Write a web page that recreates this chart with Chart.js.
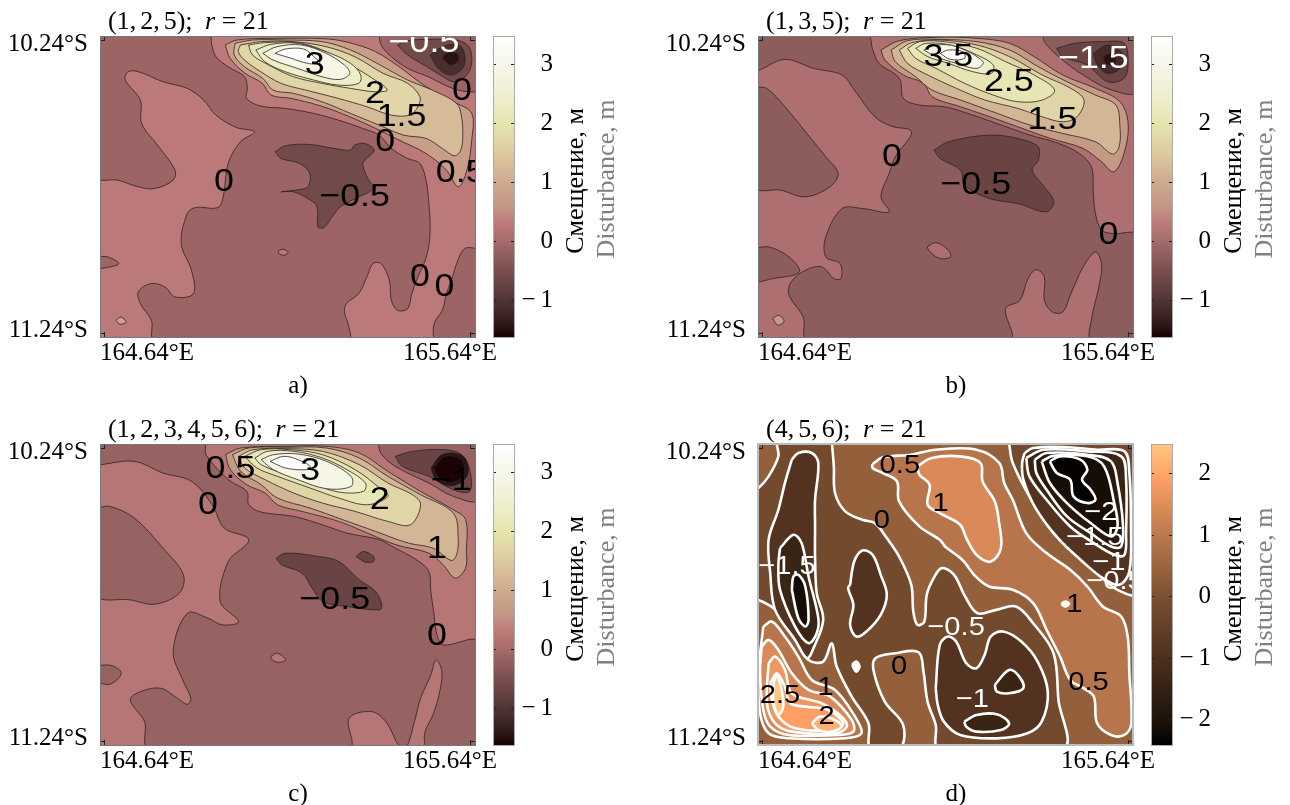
<!DOCTYPE html>
<html>
<head>
<meta charset="utf-8">
<title>Disturbance maps</title>
<script src="https://cdn.jsdelivr.net/npm/chart.js@4"></script>
<style>
    html, body { margin: 0; padding: 0; background: #fff; }
    body { width: 1290px; height: 805px; position: relative; overflow: hidden; font-family: "Liberation Serif", serif; }
    canvas { position: absolute; }
    .txt { position: absolute; font-size: 26px; line-height: 30px; white-space: nowrap; color: #000; }
    .rot { transform: translate(-50%, -50%) rotate(-90deg); }
    .cap { transform: translate(-50%, -50%); font-size: 25px; }
    .ttl { transform: translateY(-50%); }
    .ttl span { margin-left: -2.5px; }
    .ttl b { font-weight: normal; margin-left: 3px; }
</style>
</head>
<body>
<script>
/////////////// axis ticks (same on every map) ///////////////
const lonTicks = [164.64, 165.64];
const latTicks = [10.24, 11.24];
const lonTickNames = ["164.64°E", "165.64°E"];
const latTickNames = ["10.24°S", "11.24°S"];
const lonNameAt = [164.757, 165.583];
const latNameAt = [10.254, 11.23];

/////////////// colorbars ///////////////
const barTicksPink = [-1, 0, 1, 2, 3];
const barEdgesPink = [-1.62, -1.4, -1, -0.5, 0, 0.3, 0.6, 1, 1.5, 2, 2.5, 3, 3.49];
const barColorsPink = ["#1a0000", "#2e1a1a", "#503434", "#7a4e4e", "#a56b6b", "#bc7979", "#c49685", "#cea98f", "#dccb9e", "#e6e5ae", "#efefd0", "#f6f6e9", "#ffffff"];
const barTicksCopper = [-2, -1, 0, 1, 2];
const barEdgesCopper = [-2.41, -2, -1, 0, 1, 1.5, 1.8, 2, 2.48];
const barColorsCopper = ["#000000", "#1d130b", "#4c301d", "#7b4f31", "#bb7a4c", "#de8e58", "#f79a62", "#fea568", "#ffc77f"];

/////////////// map a: contour vertices as grid nodes (x,y pairs) ///////////////
const aGrid = [246, 1165, 108, 1010];
const aContours = [
    [238,100, 1173,100, 1173,1018, 238,1018],
    [238,100, 512,100, 520,135, 530,170, 560,200, 600,230, 607,265, 605,295, 640,318, 700,325, 770,340, 830,360, 890,385, 930,405, 960,445, 1000,475, 1030,490, 1045,540, 1052,610, 1055,690, 1050,750, 1040,790, 1025,830, 1010,880, 1000,925, 975,930, 960,900, 955,840, 935,790, 915,790, 900,830, 880,880, 850,910, 845,935, 855,975, 855,1018, 380,1018, 372,960, 345,910, 340,875, 370,850, 405,860, 430,890, 475,880, 470,810, 445,730, 460,640, 480,622, 535,622, 548,590, 560,490, 590,425, 625,395, 580,382, 530,345, 500,300, 460,265, 400,245, 340,215, 315,215, 308,240, 345,300, 348,370, 390,440, 430,510, 425,540, 380,565, 340,560, 290,540, 238,530],
    [238,770, 265,770, 292,790, 270,800, 238,802],
    [1173,745, 1140,745, 1120,790, 1110,830, 1095,880, 1085,930, 1065,970, 1070,1018, 1173,1018],
    [930,100, 935,135, 960,170, 1000,205, 1050,230, 1110,265, 1150,275, 1173,270, 1173,100],
    [975,135, 1000,165, 1040,195, 1080,225, 1115,245, 1145,225, 1157,185, 1150,140, 1120,120, 1060,118, 1000,122],
    [1055,165, 1075,205, 1105,225, 1135,205, 1140,165, 1125,135, 1085,140],
    [1085,175, 1105,195, 1125,180, 1120,160, 1095,160],
    [675,455, 700,437, 760,433, 820,445, 860,450, 870,435, 895,430, 918,450, 900,475, 890,490, 900,530, 915,565, 880,590, 835,620, 815,650, 795,682, 780,680, 778,620, 755,595, 720,575, 690,575, 725,570, 755,560, 760,520, 735,490, 690,475],
    [683,752, 695,747, 707,757, 697,765, 685,760],
    [285,960, 297,950, 310,965, 295,972],
    [553,135, 582,120, 673,115, 805,117, 863,130, 921,155, 979,200, 1045,260, 1112,305, 1157,340, 1157,420, 1145,510, 1124,560, 1095,510, 1045,460, 979,420, 913,380, 838,340, 780,315, 714,295, 665,285, 644,250, 602,220, 565,175],
    [577,130, 620,120, 700,120, 790,125, 860,150, 925,190, 1000,240, 1060,270, 1120,310, 1132,350, 1135,410, 1130,450, 1115,467, 1085,445, 1045,415, 990,405, 930,375, 860,340, 790,305, 720,280, 670,270, 645,235, 600,200, 575,165],
    [590,135, 640,125, 720,125, 800,140, 870,170, 940,220, 1000,250, 1030,290, 1025,320, 1005,345, 960,345, 900,320, 830,295, 750,270, 690,250, 640,215, 600,180, 585,155],
    [610,135, 650,128, 730,128, 790,150, 860,195, 920,240, 950,270, 920,275, 860,265, 790,250, 720,230, 660,195, 620,165],
    [628,150, 665,133, 730,130, 800,155, 860,190, 885,225, 880,250, 830,255, 770,240, 700,215, 650,185],
    [645,160, 680,140, 740,135, 800,160, 845,195, 858,220, 835,238, 790,230, 730,205, 670,180],
    [675,160, 700,147, 745,147, 770,170, 785,190, 755,190, 715,175]
];
const aFills = ["#bc7979", "#9c6464", "#9c6464", "#9c6464", "#9c6464", "#724a4a", "#4a2e2e", "#2a1212", "#724a4a", "#bc7979", "#c9a088", "#c89e88", "#d5bb98", "#e0d6a8", "#e8e5b4", "#eeeec8", "#f6f6e6", "#ffffff"];
const aLabels = ["3", "2", "1.5", "0", "0", "0.5", "0", "−0.5", "0", "0", "−0.5"];
const aLabelNodes = [[772,195], [920,282], [985,350], [945,425], [1133,272], [1130,520], [550,545], [870,590], [1030,830], [1090,862], [1040,130]];
const aLabelColors = ["#000", "#000", "#000", "#000", "#000", "#000", "#000", "#000", "#000", "#000", "#fff"];

/////////////// map b ///////////////
const bGrid = [264, 1182, 108, 1010];
const bContours = [
    [256,100, 1190,100, 1190,1018, 256,1018],
    [256,100, 530,100, 545,150, 560,190, 610,235, 620,295, 660,315, 720,320, 790,345, 860,375, 930,405, 1000,430, 1050,460, 1080,500, 1085,580, 1090,640, 1105,690, 1135,700, 1190,705, 1190,1018, 1080,1018, 1080,960, 1100,850, 1105,790, 1090,755, 1060,800, 1030,880, 1010,935, 985,935, 965,900, 965,830, 945,808, 925,835, 905,900, 870,925, 880,1018, 385,1018, 375,950, 340,885, 345,845, 380,810, 420,800, 450,835, 467,835, 465,790, 430,770, 430,710, 470,625, 520,625, 585,635, 565,590, 585,520, 600,470, 640,395, 590,378, 550,350, 500,270, 470,225, 400,205, 330,178, 264,212, 256,212],
    [256,262, 285,265, 330,320, 390,410, 430,470, 460,520, 440,560, 380,590, 320,570, 256,560],
    [256,745, 290,740, 340,770, 365,815, 300,835, 256,840],
    [960,100, 965,125, 1000,170, 1060,225, 1130,270, 1190,275, 1190,100],
    [995,145, 1040,130, 1110,125, 1160,130, 1170,190, 1160,235, 1120,245, 1070,195, 1010,170],
    [1085,160, 1120,135, 1155,160, 1150,205, 1120,220, 1095,195],
    [1110,170, 1130,160, 1140,185, 1125,195, 1112,185],
    [695,450, 730,425, 830,405, 900,415, 950,440, 950,480, 935,510, 965,560, 988,605, 970,635, 900,610, 830,595, 770,555, 760,510, 710,475],
    [678,740, 700,727, 730,750, 735,770, 710,775, 685,755],
    [300,955, 315,945, 328,962, 313,975],
    [565,150, 610,122, 700,112, 800,115, 880,130, 940,170, 1010,225, 1090,265, 1150,305, 1170,370, 1160,460, 1135,515, 1105,485, 1060,445, 980,415, 900,380, 820,345, 760,320, 690,290, 670,250, 620,225, 575,180],
    [590,150, 630,122, 700,118, 800,125, 880,150, 950,200, 1020,245, 1090,285, 1140,315, 1150,380, 1148,440, 1132,462, 1090,425, 1010,400, 930,375, 850,340, 760,300, 690,270, 650,230, 600,185],
    [610,150, 640,128, 710,120, 800,135, 880,170, 960,225, 1030,265, 1062,300, 1045,350, 1010,365, 960,350, 900,325, 820,300, 750,265, 680,225, 630,190],
    [630,145, 660,125, 720,125, 800,145, 870,185, 940,225, 990,270, 960,300, 900,305, 840,285, 770,250, 700,205, 650,175],
    [650,145, 675,130, 735,135, 800,165, 840,195, 835,220, 790,215, 730,190, 680,170],
    [670,150, 700,135, 750,140, 815,185, 800,205, 750,190, 700,170],
    [710,160, 730,150, 765,155, 770,175, 735,178]
];
const bFills = ["#ad6f6f", "#8d5c5c", "#8d5c5c", "#8d5c5c", "#8d5c5c", "#6a4343", "#452a2a", "#2a1212", "#6a4343", "#ad6f6f", "#c49a85", "#c49a85", "#d2b695", "#e0d5a6", "#e8e5b4", "#eeeec8", "#f6f6e6", "#ffffff"];
const bLabels = ["3.5", "2.5", "1.5", "0", "−0.5", "0", "−1.5"];
const bLabelNodes = [[730,170], [878,245], [985,360], [592,472], [797,555], [1122,705], [1085,178]];
const bLabelColors = ["#000", "#000", "#000", "#000", "#000", "#000", "#fff"];

/////////////// map c ///////////////
const cGrid = [246, 1163, 118, 1020];
const cContours = [
    [238,110, 1171,110, 1171,1028, 238,1028],
    [238,110, 500,110, 505,150, 560,225, 605,260, 610,300, 640,322, 720,335, 790,360, 850,385, 930,405, 960,425, 1020,465, 1050,500, 1055,560, 1062,620, 1070,690, 1085,720, 1171,712, 1171,1028, 1048,1028, 1040,985, 1060,930, 1075,870, 1082,800, 1068,765, 1055,810, 1030,880, 1015,950, 995,1028, 980,1028, 945,950, 910,920, 855,940, 855,1028, 365,1028, 355,950, 320,885, 345,860, 395,850, 435,880, 460,898, 468,880, 450,830, 425,740, 460,625, 510,640, 545,660, 585,650, 540,590, 560,470, 610,405, 550,370, 520,300, 470,230, 400,205, 330,170, 246,180, 238,180],
    [238,310, 270,305, 330,340, 400,430, 450,510, 440,565, 380,598, 320,585, 238,570],
    [238,782, 275,782, 298,805, 270,838, 238,825],
    [925,110, 935,150, 975,190, 1050,235, 1110,275, 1171,285, 1171,110],
    [968,155, 1010,140, 1090,135, 1130,150, 1150,195, 1150,260, 1110,255, 1050,215, 985,185],
    [1055,190, 1085,148, 1135,155, 1145,210, 1110,243, 1070,228],
    [1062,190, 1090,155, 1130,165, 1135,210, 1105,235, 1075,220],
    [677,460, 700,445, 780,455, 830,470, 880,525, 920,560, 935,600, 930,615, 850,605, 790,590, 765,550, 740,505, 690,480],
    [872,455, 890,440, 915,455, 915,470, 895,472],
    [663,755, 680,745, 700,765, 685,772, 670,768],
    [553,150, 590,130, 700,125, 800,125, 880,145, 950,200, 1030,260, 1110,315, 1140,345, 1142,440, 1140,490, 1115,520, 1085,480, 1050,445, 970,420, 900,385, 830,350, 740,320, 680,300, 650,265, 605,240, 565,195],
    [570,150, 610,130, 700,128, 800,130, 880,160, 950,215, 1030,270, 1110,325, 1122,400, 1118,450, 1105,467, 1060,430, 1000,415, 920,380, 840,345, 760,310, 680,280, 640,240, 590,200],
    [585,155, 620,135, 700,132, 790,140, 880,180, 950,235, 1010,270, 1030,300, 1005,360, 950,350, 870,320, 790,295, 720,265, 650,225, 600,190],
    [600,155, 640,135, 710,135, 790,150, 870,195, 930,250, 950,275, 900,300, 830,280, 760,250, 680,215, 630,190],
    [625,160, 655,140, 720,140, 790,160, 850,195, 895,235, 890,260, 830,262, 760,235, 690,205, 640,180],
    [640,165, 670,150, 730,148, 800,170, 860,215, 860,245, 800,252, 730,225, 670,195],
    [662,170, 695,155, 730,165, 760,185, 750,195, 700,190]
];
const cFills = ["#b67676", "#966262", "#966262", "#966262", "#966262", "#6a4444", "#2c1414", "#1d0404", "#6a4444", "#6a4444", "#b67676", "#c49a85", "#d2b695", "#e0d5a6", "#e8e5b4", "#eeeec8", "#f6f6e6", "#ffffff"];
const cLabels = ["0.5", "3", "2", "0", "1", "−0.5", "0", "−1"];
const cLabelNodes = [[565,192], [760,200], [930,285], [510,300], [1070,432], [820,587], [1070,695], [1105,230]];
const cLabelColors = ["#000", "#000", "#000", "#000", "#000", "#000", "#000", "#000"];

/////////////// map d ///////////////
const dGrid = [264, 1184, 118, 1020];
const dContours = [
    [256,110, 1192,110, 1192,1028, 256,1028],
    [445,110, 450,185, 453,265, 478,320, 520,345, 551,355, 580,400, 610,455, 640,540, 645,620, 655,660, 672,650, 678,570, 695,520, 715,490, 745,510, 770,570, 802,625, 848,615, 897,605, 939,655, 989,745, 1001,885, 1013,1030, 708,1030, 700,960, 680,890, 670,800, 658,742, 600,745, 552,760, 548,800, 575,890, 620,960, 612,1030, 540,1030, 535,955, 494,875, 457,785, 445,715, 424,770, 388,765, 355,705, 306,615, 265,585, 256,585, 256,250, 265,250, 290,215, 314,155, 314,110],
    [880,110, 881,125, 889,175, 930,275, 989,385, 1055,455, 1105,515, 1146,555, 1192,565, 1192,110],
    [918,145, 939,130, 1013,127, 1096,135, 1163,140, 1175,205, 1179,355, 1175,500, 1150,540, 1110,520, 1060,470, 1000,400, 945,310, 915,225, 912,175],
    [922,160, 964,135, 1072,140, 1155,155, 1167,225, 1167,385, 1163,450, 1138,450, 1088,415, 1030,365, 972,285, 930,215],
    [943,165, 972,145, 1072,150, 1130,170, 1146,235, 1159,355, 1155,425, 1130,425, 1080,385, 1022,335, 972,255, 947,205],
    [960,170, 989,153, 1072,155, 1113,185, 1138,295, 1146,365, 1130,395, 1080,355, 1022,295, 980,235],
    [980,170, 1005,155, 1055,165, 1072,195, 1059,225, 1080,255, 1092,285, 1072,295, 1038,275, 1030,225, 997,205],
    [545,178, 570,158, 640,150, 700,135, 800,135, 856,175, 868,235, 889,285, 922,385, 972,445, 1030,495, 1072,545, 1110,605, 1155,635, 1171,695, 1175,805, 1180,955, 1163,990, 1130,990, 1096,955, 1088,875, 1063,850, 1030,825, 1005,755, 972,675, 939,595, 889,555, 831,545, 798,515, 765,465, 723,425, 710,405, 660,365, 610,290, 605,230, 570,205, 545,190],
    [655,185, 690,160, 760,155, 810,175, 815,230, 845,290, 855,350, 860,430, 835,470, 800,450, 775,400, 760,360, 710,325, 680,300, 685,240, 660,210],
    [347,165, 363,145, 396,145, 412,175, 404,285, 404,365, 404,455, 408,565, 424,645, 400,730, 384,760, 355,705, 306,615, 294,505, 290,405, 314,315, 330,235],
    [318,430, 351,390, 371,415, 388,515, 412,640, 408,685, 388,715, 355,665, 318,555, 314,480],
    [347,555, 351,515, 363,510, 380,545, 388,645, 380,665, 363,640],
    [490,540, 500,470, 520,437, 545,450, 565,510, 580,570, 565,630, 530,680, 505,695, 490,660, 498,600, 485,550],
    [700,850, 710,720, 730,695, 750,710, 775,775, 800,790, 820,750, 835,695, 865,680, 910,710, 950,770, 975,860, 960,950, 925,985, 850,1000, 760,990, 720,950, 705,900],
    [845,840, 880,795, 905,815, 915,850, 880,865, 850,860],
    [770,950, 800,930, 850,928, 880,955, 860,975, 800,980, 775,965],
    [277,665, 298,650, 330,695, 363,755, 396,825, 453,855, 502,935, 518,985, 478,1000, 339,1000, 290,985, 269,925, 265,805],
    [273,725, 290,705, 314,735, 347,805, 388,855, 441,875, 494,945, 498,980, 461,990, 339,990, 294,965, 277,915, 269,805],
    [290,775, 306,755, 330,795, 347,865, 420,895, 469,935, 482,965, 453,985, 347,980, 306,955, 286,895],
    [294,835, 310,805, 330,845, 343,895, 380,905, 437,915, 473,955, 453,975, 355,970, 314,935, 298,885],
    [302,835, 310,810, 322,855, 326,905, 314,930, 302,895],
    [396,955, 416,935, 453,945, 469,965, 445,980, 412,975],
    [495,780, 505,770, 513,785, 505,800],
    [1008,597, 1018,590, 1027,597, 1018,605]
];
const dFills = ["#94603c", "#734a2e", "#734a2e", "#533320", "#3a2414", "#2a1a0e", "#160e06", "#050302", "#b8744a", "#d98a58", "#533320", "#3a2414", "#150c05", "#533320", "#533320", "#3a2414", "#3a2414", "#b8744a", "#d98a58", "#f09660", "#ff9f65", "#ffc77f", "#ffaf70", "#ffffff", "#ffffff"];
const dLabels = ["0.5", "1", "0", "−1.5", "1", "−0.5", "0", "0.5", "−1", "1", "2.5", "2", "−2", "−1.5", "−1", "−0.5"];
const dLabelNodes = [[612,182], [712,297], [568,347], [335,487], [1040,600], [750,670], [610,785], [1075,835], [790,885], [430,850], [318,872], [432,935], [1105,325], [1090,400], [1125,475], [1140,530]];
const dLabelColors = ["#000", "#000", "#000", "#fff", "#000", "#fff", "#000", "#000", "#fff", "#000", "#000", "#000", "#fff", "#fff", "#fff", "#fff"];

////////////////////////// helpers //////////////////////////
function addCanvas(left, top, width, height) {
    var c = document.createElement("canvas");
    c.width = width;
    c.height = height;
    c.style.left = left + "px";
    c.style.top = top + "px";
    c.style.width = width + "px";
    c.style.height = height + "px";
    document.body.appendChild(c);
    return c;
}

function addText(cls, left, top, html, color) {
    var d = document.createElement("div");
    d.className = "txt " + cls;
    d.style.left = left + "px";
    d.style.top = top + "px";
    if (color) d.style.color = color;
    d.innerHTML = html;
    document.body.appendChild(d);
}

// contour labels are drawn a bit stretched, the picture was scaled wider than tall
const contourText = {
    id: "contourText",
    afterDatasetsDraw: function (chart, args, opts) {
        var ctx = chart.ctx, a = chart.chartArea;
        ctx.save();
        ctx.beginPath();
        ctx.rect(a.left, a.top, a.width, a.height);
        ctx.clip();
        ctx.font = opts.size + 'px "Liberation Sans"';
        ctx.textAlign = "center";
        ctx.textBaseline = "middle";
        opts.texts.forEach(function (t, i) {
            ctx.save();
            ctx.translate(chart.scales.x.getPixelForValue(opts.at[i][0]), chart.scales.y.getPixelForValue(opts.at[i][1]));
            ctx.scale(1.12, 1);
            ctx.fillStyle = opts.colors[i];
            ctx.fillText(t, 0, 0);
            ctx.restore();
        });
        ctx.restore();
    }
};

function fixedTicks(values) {
    return function (scale) {
        scale.ticks = values.map(function (v) { return { value: v }; });
    };
}
// axis keeps this size and asks for no extra room for its labels
function fixedSize(prop, size) {
    return function (scale) {
        scale[prop] = size;
        scale.paddingTop = scale.paddingBottom = scale.paddingLeft = scale.paddingRight = 0;
    };
}

function markAxis(axis, position, range, ticks, frame, reverse, size) {
    return {
        type: "linear", axis: axis, position: position, min: range[0], max: range[1], reverse: reverse,
        afterBuildTicks: fixedTicks(ticks),
        afterFit: fixedSize(size, 0),
        ticks: { display: false, autoSkip: false },
        border: { color: frame.color, width: frame.width, z: 2 },
        grid: { drawOnChartArea: false, drawTicks: true, tickLength: -5, color: "#222", z: 1 }
    };
}

function drawMap(frameLeft, frameTop, grid, contours, fills, texts, nodes, colors, look) {
    var L = grid[0], R = grid[1], T = grid[2], B = grid[3];
    var lon = function (n) { return 164.64 + (n - L - 10) / (R - L - 20); };
    var lat = function (n) { return 10.24 + (n - T - 12) / (B - T - 22); };
    var lonRange = [lon(L), lon(R)], latRange = [lat(T), lat(B)];

    var datasets = contours.map(function (pts, i) {
        var data = [];
        for (var k = 0; k < pts.length; k += 2) data.push({ x: lon(pts[k]), y: lat(pts[k + 1]) });
        data.push(data[0]);
        return {
            data: data, showLine: true, pointRadius: 0, fill: "shape", tension: i === 0 ? 0 : 0.35,
            backgroundColor: fills[i], borderColor: look.line, borderWidth: look.width, clip: 0
        };
    }).reverse();   // first dataset is painted last by Chart.js

    new Chart(addCanvas(frameLeft - 95, frameTop - 14, 500, 355), {
        type: "scatter",
        data: { datasets: datasets },
        plugins: [contourText],
        options: {
            responsive: false, animation: false, events: [],
            layout: { autoPadding: false, padding: { top: 14, right: 30, left: 0, bottom: 0 } },
            plugins: {
                legend: { display: false }, tooltip: { enabled: false },
                contourText: { size: look.labelSize, texts: texts, colors: colors, at: nodes.map(function (p) { return [lon(p[0]), lat(p[1])]; }) }
            },
            scales: {
                x: markAxis("x", "bottom", lonRange, lonTicks, look.frame, false, "height"),
                xTop: markAxis("x", "top", lonRange, lonTicks, look.frame, false, "height"),
                y: markAxis("y", "left", latRange, latTicks, look.frame, true, "width"),
                yRight: markAxis("y", "right", latRange, latTicks, look.frame, true, "width"),
                xText: {
                    type: "linear", axis: "x", position: "bottom", min: lonRange[0], max: lonRange[1],
                    afterBuildTicks: fixedTicks(lonNameAt), afterFit: fixedSize("height", 40),
                    border: { display: false }, grid: { display: false, drawTicks: false },
                    ticks: { autoSkip: false, maxRotation: 0, padding: 1, color: "#000", font: { family: "Liberation Serif", size: 25 }, callback: function (v, i) { return lonTickNames[i]; } }
                },
                yText: {
                    type: "linear", axis: "y", position: "left", min: latRange[0], max: latRange[1], reverse: true,
                    afterBuildTicks: fixedTicks(latNameAt), afterFit: fixedSize("width", 95),
                    border: { display: false }, grid: { display: false, drawTicks: false },
                    ticks: { autoSkip: false, padding: 12, color: "#000", font: { family: "Liberation Serif", size: 25 }, callback: function (v, i) { return latTickNames[i]; } }
                }
            }
        }
    });
}

function drawBar(barLeft, barTop, edges, colors, ticks) {
    var range = [edges[0], edges[edges.length - 1]];
    var frame = { color: "#aaa", width: 1 };
    // one floating bar, the colormap is its gradient
    var barFill = function (ctx) {
        var a = ctx.chart.chartArea;
        if (!a) return colors[0];
        var y = ctx.chart.scales.y;
        var g = ctx.chart.ctx.createLinearGradient(0, y.getPixelForValue(range[0]), 0, y.getPixelForValue(range[1]));
        edges.forEach(function (e, i) {
            g.addColorStop((e - range[0]) / (range[1] - range[0]), colors[i]);
        });
        return g;
    };
    var yAxis = function (position) {
        return {
            type: "linear", position: position, min: range[0], max: range[1],
            afterBuildTicks: fixedTicks(ticks),
            border: { color: frame.color, width: frame.width, z: 2 },
            grid: { drawOnChartArea: false, drawTicks: true, tickLength: -3, color: "#222", z: 1 }
        };
    };
    var right = yAxis("right");
    right.afterFit = fixedSize("width", 39);
    right.ticks = {
        autoSkip: false, padding: 3, crossAlign: "far", color: "#000", font: { family: "Liberation Serif", size: 25 },
        callback: function (v) { return v < 0 ? "−\u2009" + Math.abs(v) : String(v); }
    };
    var left = yAxis("left");
    left.afterFit = fixedSize("width", 0);
    left.ticks = { display: false, autoSkip: false };
    var edge = function (position) {
        return { type: "category", position: position, labels: [""], afterFit: fixedSize("height", 0), ticks: { display: false }, border: { color: frame.color, width: frame.width, z: 2 }, grid: { display: false, drawTicks: false } };
    };

    new Chart(addCanvas(barLeft - 2, barTop - 12, 62, 325), {
        type: "bar",
        data: { labels: [""], datasets: [{ data: [range], backgroundColor: barFill, borderWidth: 0, barPercentage: 1, categoryPercentage: 1 }] },
        options: {
            responsive: false, animation: false, events: [],
            layout: { autoPadding: false, padding: { top: 12, bottom: 12, left: 2, right: 0 } },
            plugins: { legend: { display: false }, tooltip: { enabled: false } },
            scales: { x: edge("bottom"), xTop: edge("top"), y: right, yLeft: left }
        }
    });
}

function drawPanel(left, top, grid, contours, fills, texts, nodes, colors, look, bar, title, caption) {
    drawMap(left, top, grid, contours, fills, texts, nodes, colors, look);
    drawBar(left + 393, top, bar.edges, bar.colors, bar.ticks);
    // commas in the title sit tighter than ordinary word spaces
    addText("ttl", left + 8, top - 15, title.replace(/, /g, ",<span> </span>") + "<b></b>&nbsp;<b></b><i>r</i> = 21");
    addText("cap", left + 198, top + 349, caption);
    addText("rot", left + 475, top + 145, "Смещение, м");
    addText("rot", left + 506, top + 143, "Disturbance, m", "#808080");
}

////////////////////////// panels //////////////////////////
const thinLook = { line: "#2e2222", width: 0.8, labelSize: 32, frame: { color: "#777", width: 1 } };
const whiteLook = { line: "#ffffff", width: 2.6, labelSize: 26, frame: { color: "#bbb", width: 2 } };
const pinkBar = { edges: barEdgesPink, colors: barColorsPink, ticks: barTicksPink };
const copperBar = { edges: barEdgesCopper, colors: barColorsCopper, ticks: barTicksCopper };

drawPanel(100, 36, aGrid, aContours, aFills, aLabels, aLabelNodes, aLabelColors, thinLook, pinkBar, "(1, 2, 5);", "a)");
drawPanel(758, 36, bGrid, bContours, bFills, bLabels, bLabelNodes, bLabelColors, thinLook, pinkBar, "(1, 3, 5);", "b)");
drawPanel(100, 444, cGrid, cContours, cFills, cLabels, cLabelNodes, cLabelColors, thinLook, pinkBar, "(1, 2, 3, 4, 5, 6);", "c)");
drawPanel(758, 444, dGrid, dContours, dFills, dLabels, dLabelNodes, dLabelColors, whiteLook, copperBar, "(4, 5, 6);", "d)");
</script>
</body>
</html>
